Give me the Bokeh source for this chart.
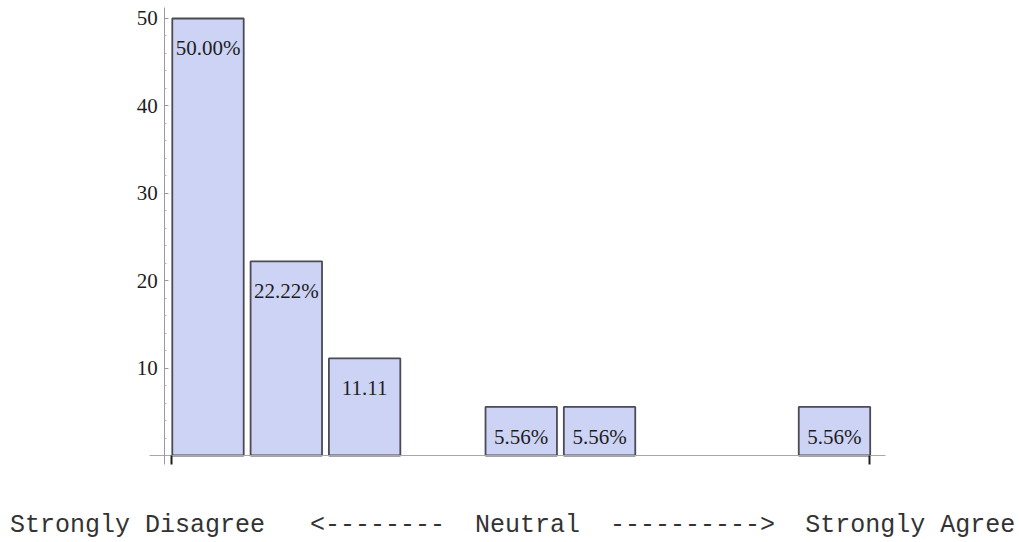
from bokeh.plotting import figure
from bokeh.models import Range1d, LinearAxis, FixedTicker, Label, ColumnDataSource
from bokeh.core.properties import value
from bokeh.embed import file_html
from bokeh.resources import INLINE

# ---- data ----
slots = [1, 2, 3, 4, 5, 6, 7, 8, 9]
percent = [50.00, 22.22, 11.11, 0.0, 5.56, 5.56, 0.0, 0.0, 5.56]
bar_labels = ["50.00%", "22.22%", "11.11", "", "5.56%", "5.56%", "", "", "5.56%"]
y_ticks = [10, 20, 30, 40, 50]
y_minor = [2, 4, 6, 8, 12, 14, 16, 18, 22, 24, 26, 28, 32, 34, 36, 38, 42, 44, 46, 48]
scale_text = "Strongly Disagree   <--------  Neutral  ---------->  Strongly Agree"

xs = [s for s, v in zip(slots, percent) if v > 0]
vs = [v for v in percent if v > 0]
ls = [l for l, v in zip(bar_labels, percent) if v > 0]
src = ColumnDataSource(dict(x=xs, top=vs, label=ls))

p = figure(width=1019, height=542, output_backend="svg", toolbar_location=None,
           x_range=Range1d(-1.6497, 11.3627), y_range=Range1d(-9.954, 52.059),
           x_axis_location=None, y_axis_location=None,
           min_border_left=0, min_border_right=0, min_border_top=0, min_border_bottom=0)
p.outline_line_color = None
p.grid.visible = False
p.background_fill_color = "white"
p.border_fill_color = "white"

p.vbar(x="x", top="top", bottom=0, width=0.912, source=src,
       fill_color="#cdd3f4", line_color="#4b4b53", line_width=1.8)

p.text(x="x", y="top", text="label", source=src, y_offset=30,
       text_align="center", text_baseline="alphabetic",
       text_font=value("Liberation Serif"), text_font_size="21px", text_color="#1e1e1e")

# y axis placed at the data position x=0.448
yax = LinearAxis(fixed_location=0.448, bounds=(-1.03, 51.26))
yax.ticker = FixedTicker(ticks=y_ticks, minor_ticks=y_minor)
yax.axis_line_color = "#9a9a9a"
yax.axis_line_width = 1
yax.major_tick_in = 4
yax.major_tick_out = 0
yax.minor_tick_in = 2
yax.minor_tick_out = 0
yax.major_tick_line_color = "#9a9a9a"
yax.minor_tick_line_color = "#b0b0b0"
yax.major_label_standoff = 7
yax.major_label_text_font = "Liberation Serif"
yax.major_label_text_font_size = "21px"
yax.major_label_text_color = "#1e1e1e"
p.add_layout(yax, "left")

# x axis at y=0
xax = LinearAxis(fixed_location=0, bounds=(0.253, 9.652))
xax.ticker = FixedTicker(ticks=[0.54, 9.445], minor_ticks=[])
xax.axis_line_color = "#a8a8a8"
xax.axis_line_width = 1
xax.major_tick_in = 0
xax.major_tick_out = 9
xax.major_tick_line_color = "#1e1e1e"
xax.major_tick_line_width = 2
xax.minor_tick_line_color = None
xax.major_label_text_font_size = "0px"
xax.major_label_text_color = None
p.add_layout(xax, "below")

# keep the run of spaces (SVG collapses ordinary spaces)
p.add_layout(Label(x=-1.5284, y=-8.01, text=scale_text.replace(" ", "\u00a0"),
                   text_font="Liberation Mono", text_font_size="25px",
                   text_color="#333333", text_baseline="alphabetic"))

open("out.html", "w").write(file_html(p, INLINE))
